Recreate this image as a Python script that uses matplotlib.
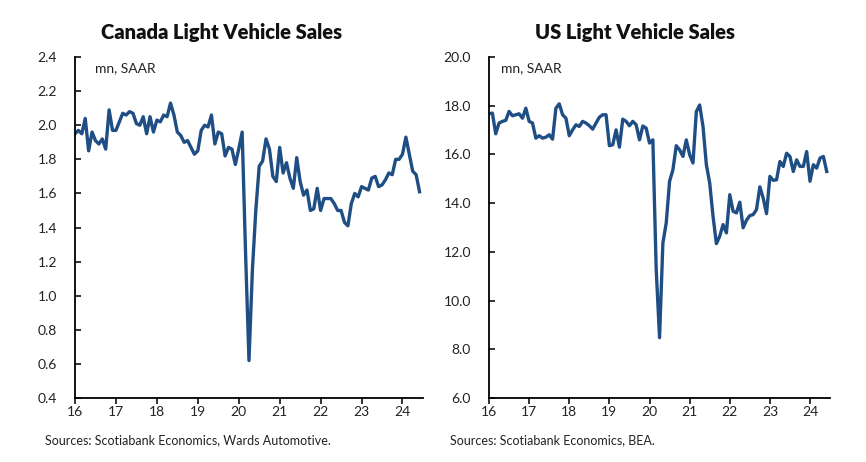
import numpy as np
import matplotlib
matplotlib.use("Agg")
import matplotlib.pyplot as plt

plt.rcParams['font.family'] = ['Lato', 'DejaVu Sans']

# monthly, Jan 2016 .. Jun 2024
canada = [1.95, 1.97, 1.95, 2.04, 1.85, 1.96, 1.91, 1.89, 1.92, 1.86, 2.09, 1.97,
          1.97, 2.02, 2.07, 2.06, 2.08, 2.07, 2.01, 2.00, 2.05, 1.95, 2.05, 1.96,
          2.03, 2.02, 2.06, 2.05, 2.13, 2.06, 1.96, 1.94, 1.90, 1.91, 1.87, 1.83,
          1.85, 1.97, 2.00, 1.99, 2.06, 1.89, 1.96, 1.95, 1.82, 1.87, 1.86, 1.77,
          1.86, 1.96, 1.25, 0.62, 1.15, 1.50, 1.76, 1.79, 1.92, 1.86, 1.70, 1.67,
          1.87, 1.72, 1.78, 1.69, 1.63, 1.81, 1.67, 1.59, 1.62, 1.50, 1.51, 1.63,
          1.50, 1.57, 1.57, 1.57, 1.54, 1.50, 1.50, 1.43, 1.41, 1.54, 1.60, 1.58,
          1.64, 1.63, 1.62, 1.69, 1.70, 1.64, 1.65, 1.68, 1.72, 1.71, 1.80, 1.80,
          1.83, 1.93, 1.83, 1.73, 1.71, 1.61]

us = [17.67, 17.70, 16.85, 17.29, 17.36, 17.40, 17.77, 17.59, 17.63, 17.67, 17.49, 17.90,
      17.36, 17.29, 16.67, 16.77, 16.67, 16.71, 16.81, 16.63, 17.90, 18.08, 17.63, 17.49,
      16.77, 17.01, 17.22, 17.15, 17.36, 17.29, 17.18, 17.04, 17.29, 17.53, 17.63, 17.63,
      16.36, 16.40, 17.01, 16.30, 17.45, 17.36, 17.18, 17.36, 17.22, 16.60, 17.17, 17.08,
      16.47, 16.60, 11.28, 8.48, 12.37, 13.19, 14.90, 15.37, 16.36, 16.19, 15.92, 16.60,
      15.99, 15.65, 17.76, 18.03, 17.15, 15.58, 14.83, 13.46, 12.34, 12.64, 13.12, 12.78,
      14.35, 13.67, 13.60, 14.04, 12.99, 13.30, 13.49, 13.53, 13.74, 14.67, 14.21, 13.57,
      15.10, 14.94, 14.96, 15.71, 15.51, 16.05, 15.92, 15.30, 15.78, 15.51, 15.51, 16.12,
      14.90, 15.58, 15.44, 15.85, 15.92, 15.30]

months = 16 + np.arange(len(canada)) / 12
year_ticks = [16, 17, 18, 19, 20, 21, 22, 23, 24]

line_col = '#1f4e84'

fig = plt.figure(figsize=(8.66, 4.62), dpi=100)
ax1 = fig.add_axes([0.0866, 0.1385, 0.4018, 0.738])
ax2 = fig.add_axes([0.5647, 0.1385, 0.3938, 0.738])


def style(ax, yticks, fmt):
    ax.set_xlim(16, 24.5)
    ax.set_ylim(yticks[0], yticks[-1])
    ax.set_yticks(yticks)
    ax.set_yticklabels([fmt.format(v) for v in yticks])
    ax.set_xticks(year_ticks)
    ax.set_xticklabels([str(y) for y in year_ticks])
    for s in ['top', 'right']:
        ax.spines[s].set_visible(False)
    for s in ['left', 'bottom']:
        ax.spines[s].set_linewidth(1.3)
    ax.tick_params(axis='y', direction='in', length=4, width=1.3, pad=13,
                   labelsize=10, colors='#222222')
    ax.tick_params(axis='x', direction='out', length=4, width=1.3, pad=2,
                   labelsize=10, colors='#222222')


ax1.plot(months, canada, color=line_col, lw=2.4, solid_joinstyle='round')
style(ax1, np.arange(0.4, 2.41, 0.2), '{:.1f}')
ax1.text(0.058, 0.985, 'mn, SAAR', transform=ax1.transAxes, fontsize=10,
         va='top', color='#222222')

ax2.plot(months, us, color=line_col, lw=2.4, solid_joinstyle='round')
style(ax2, np.arange(6.0, 20.01, 2.0), '{:.1f}')
ax2.text(0.035, 0.985, 'mn, SAAR', transform=ax2.transAxes, fontsize=10,
         va='top', color='#222222')

fig.text(222 / 866, 1 - 32 / 462, 'Canada Light Vehicle Sales', ha='center',
         va='center', fontsize=14.5, fontweight='heavy', color='#111111')
fig.text(635 / 866, 1 - 32 / 462, 'US Light Vehicle Sales', ha='center',
         va='center', fontsize=14.5, fontweight='heavy', color='#111111')

fig.text(45 / 866, 1 - 440 / 462, 'Sources: Scotiabank Economics, Wards Automotive.',
         ha='left', va='center', fontsize=9, color='#222222')
fig.text(450 / 866, 1 - 440 / 462, 'Sources: Scotiabank Economics, BEA.',
         ha='left', va='center', fontsize=9, color='#222222')

fig.savefig('out.png', dpi=100)
